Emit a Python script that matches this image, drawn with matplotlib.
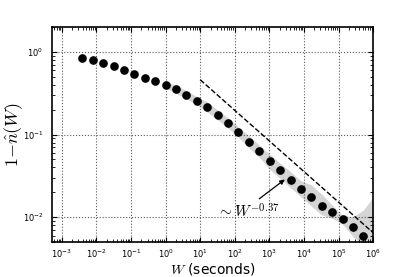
import numpy as np
import matplotlib
matplotlib.use('Agg')
import matplotlib.pyplot as plt

plt.rcParams['mathtext.fontset'] = 'cm'

# window lengths W = 2^k seconds, k = -8 .. 19
K = list(range(-8, 20))
# 1 - n_hat(W)
SURV = [0.85, 0.80, 0.74, 0.67, 0.60, 0.54, 0.49, 0.45,
        0.40, 0.353, 0.30, 0.257, 0.216, 0.172, 0.138, 0.107,
        0.082, 0.064, 0.0476, 0.037, 0.0284, 0.0221, 0.0175, 0.0137,
        0.0117, 0.0096, 0.00755, 0.0059]

# shaded band, W = 2^0 .. 2^19 then 10^6
BAND_K = list(range(0, 20))
BAND_HI = [0.434, 0.395, 0.338, 0.288, 0.248, 0.198, 0.158, 0.123,
           0.0966, 0.0744, 0.0578, 0.0450, 0.0355, 0.0276, 0.0245, 0.0190,
           0.0140, 0.0105, 0.0101, 0.0122]
BAND_LO = [0.367, 0.316, 0.270, 0.230, 0.1875, 0.150, 0.120, 0.0931,
           0.0690, 0.0532, 0.0380, 0.0295, 0.0227, 0.0177, 0.0136, 0.01066,
           0.00972, 0.00822, 0.00587, 0.00457]
BAND_END_HI = 0.0175
BAND_END_LO = 0.004

# power law guide ~ W^-0.37
GUIDE_W = [10.0, 1e6]
GUIDE_A = 0.46
GUIDE_EXP = -0.37

W = 2.0 ** np.array(K)
band_w = np.append(2.0 ** np.array(BAND_K), 1e6)
band_hi = np.append(BAND_HI, BAND_END_HI)
band_lo = np.append(BAND_LO, BAND_END_LO)
gw = np.array(GUIDE_W)
gy = GUIDE_A * (gw / GUIDE_W[0]) ** GUIDE_EXP

fig = plt.figure(figsize=(4.15, 2.77), dpi=100)
ax = fig.add_axes([0.125, 0.126, 0.774, 0.7765])

ax.fill_between(band_w, band_lo, band_hi, color='0.83', lw=0, zorder=1)
ax.plot(gw, gy, 'k--', lw=1.0, zorder=2)
ax.plot(W, SURV, 'o', color='k', ms=5.2, zorder=3)

ax.annotate('', xy=(3250, 0.0300), xytext=(442, 0.01596),
            arrowprops=dict(arrowstyle='-|>', color='k', lw=0.9,
                            mutation_scale=7), zorder=4)
ax.text(30, 0.0118, r'$\sim W^{-0.37}$', fontsize=11, ha='left', va='center')

ax.set_xscale('log')
ax.set_yscale('log')
ax.set_xlim(10 ** -3.29, 1e6)
ax.set_ylim(0.005, 2.0)
ax.set_xticks([10.0 ** e for e in range(-3, 7)])
ax.set_yticks([1e-2, 1e-1, 1e0])

ax.grid(True, which='major', color='0.35', linestyle=':', lw=0.8)
ax.tick_params(which='both', direction='in', top=True, right=True, labelsize=6)
ax.tick_params(which='major', length=3.5, width=0.8)
ax.tick_params(which='minor', length=2, width=0.6)
ax.tick_params(axis='y', pad=6)
ax.tick_params(axis='x', pad=4)
for s in ax.spines.values():
    s.set_linewidth(1.2)

ax.set_xlabel(r'$W$ (seconds)', fontsize=10, labelpad=1)
ax.set_ylabel(r'$1{-}\hat{n}(W)$', fontsize=13)
ax.yaxis.set_label_coords(-0.085, 0.5)

fig.savefig('out.png', dpi=100)
